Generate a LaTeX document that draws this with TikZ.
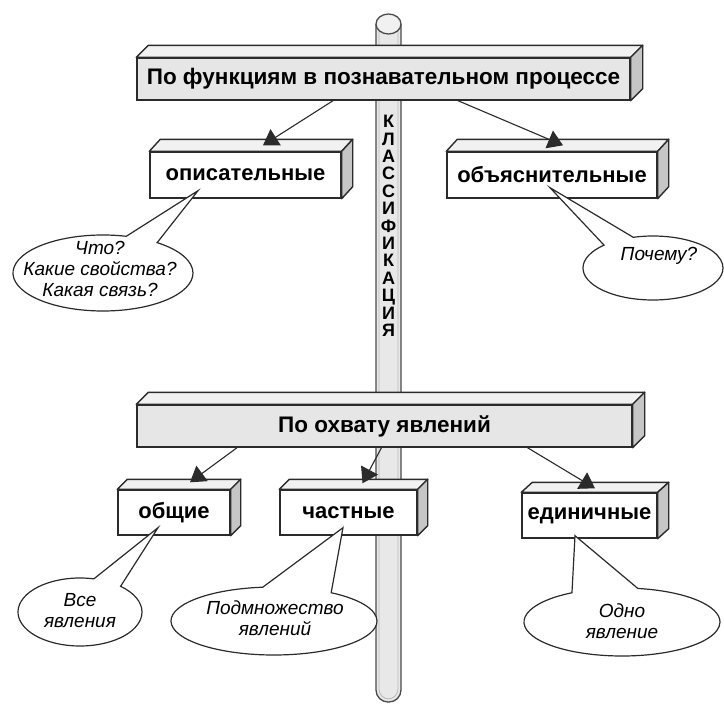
\documentclass[tikz,border=0pt]{standalone}
\usepackage{fontspec}
\setmainfont{Liberation Sans}
\usetikzlibrary{arrows.meta,shapes.callouts,shapes.geometric,calc}

\definecolor{edge}{HTML}{2B2B2B}
\definecolor{facegrey}{HTML}{E6E6E6}
\definecolor{topgrey}{HTML}{F1F1F1}
\definecolor{sidegrey}{HTML}{C6C6C6}
\definecolor{polefill}{HTML}{E8E8E8}
\definecolor{poleedge}{HTML}{4A4A4A}

\tikzset{
  block/.style={draw=edge, line width=1.4pt, inner sep=0pt,
    font=\fontsize{22}{24}\selectfont\bfseries, text=black},
  bigblock/.style={block, fill=facegrey, font=\fontsize{22.5}{24}\selectfont\bfseries},
  smallblock/.style={block, fill=white},
  topface/.style={fill=topgrey, draw=edge, line width=1.4pt, line join=round},
  sideface/.style={fill=sidegrey, draw=edge, line width=1.4pt, line join=round},
  link/.style={draw=edge, line width=1.1pt, -{Triangle[length=15pt,width=19pt]}},
  bubble/.style={ellipse callout, draw=edge, fill=white, line width=1.2pt, inner sep=0pt},
  bubbletext/.style={font=\fontsize{19}{21}\selectfont\itshape, align=center,
    text=black, inner sep=0pt},
}

% top and right faces of a block drawn as a 3D bar
\newcommand\drawdepth[3]{%
  \draw[topface] (#1.north west) -- ++(#2,-#3) -- ($(#1.north east)+(#2,-#3)$)
    -- (#1.north east) -- cycle;
  \draw[sideface] (#1.north east) -- ++(#2,-#3) -- ($(#1.south east)+(#2,-#3)$)
    -- (#1.south east) -- cycle;
}

\begin{document}
\begin{tikzpicture}[x=1pt,y=-1pt]
\useasboundingbox (0,0) rectangle (724,704);
\fill[white] (0,0) rectangle (724,704);

% the pole
\draw[poleedge, fill=polefill, line width=1.3pt, rounded corners=12pt]
  (376,24) -- (376,702) -- (401,702) -- (401,24);
\draw[gray!55, line width=0.8pt, rounded corners=10pt]
  (379,28) -- (379,699) -- (398,699) -- (398,28);
\draw[poleedge, fill=topgrey, line width=1.3pt] (388.5,24) ellipse [x radius=12.5pt, y radius=10pt];

% first criterion
\node[bigblock, minimum width=493pt, minimum height=42pt] (top) at (383.5,79)
  {По функциям в познавательном процессе};
\drawdepth{top}{12}{12}

\node[smallblock, minimum width=191pt, minimum height=46pt] (desc) at (245.5,175) {описательные};
\drawdepth{desc}{11}{12}
\node[smallblock, minimum width=210pt, minimum height=46pt] (expl) at (552,175) {объяснительные};
\drawdepth{expl}{11}{12}

% second criterion
\node[bigblock, minimum width=495pt, minimum height=42pt] (cover) at (384.5,426)
  {По охвату явлений};
\drawdepth{cover}{12}{12}

\node[smallblock, minimum width=112pt, minimum height=45pt] (gen) at (174,512.5) {общие};
\drawdepth{gen}{10}{10}
\node[smallblock, minimum width=137pt, minimum height=45pt] (part) at (348.5,512.5) {частные};
\drawdepth{part}{10}{10}
\node[smallblock, minimum width=135pt, minimum height=45pt] (single) at (589.5,515.5) {единичные};
\drawdepth{single}{11}{10}

% vertical caption on the pole
\node[font=\fontsize{18}{17.4}\selectfont\bfseries, align=center, inner sep=0pt] (cls)
  at (388.5,226) {К\\Л\\А\\С\\С\\И\\Ф\\И\\К\\А\\Ц\\И\\Я};

% arrows
\draw[link] ([xshift=-50.5pt]top.south) -- ([xshift=17.5pt,yshift=6pt]desc.north);
\draw[link] ([xshift=74.5pt]top.south) -- ([xshift=11pt,yshift=6pt]expl.north);
\draw[link] ([xshift=-147.5pt]cover.south) -- ([xshift=16pt,yshift=7pt]gen.north);
\draw[link] ([xshift=-3pt]cover.south) -- ([xshift=14pt,yshift=6pt]part.north);
\draw[link] ([xshift=143pt]cover.south) -- ([xshift=5.5pt,yshift=4pt]single.north);

% speech bubbles
\node[bubble, minimum width=180pt, minimum height=76pt, callout pointer arc=22,
  callout absolute pointer={([xshift=-47.5pt,yshift=8pt]desc.south)}] (c1) at (103,273) {};
\node[bubbletext] (t1) at (100,269) {Что?\\Какие свойства?\\Какая связь?};

\node[bubble, minimum width=140pt, minimum height=64pt, callout pointer arc=28,
  callout absolute pointer={([xshift=-2pt,yshift=11pt]expl.south)}] (c2) at (653,268) {};
\node[bubbletext] (t2) at (659,256) {Почему?};

\node[bubble, minimum width=124pt, minimum height=68pt, callout pointer arc=28,
  callout absolute pointer={([xshift=-16pt,yshift=8pt]gen.south)}] (c3) at (80,612) {};
\node[bubbletext] (t3) at (80,611) {Все\\явления};

\node[bubble, minimum width=206pt, minimum height=68pt, callout pointer arc=40,
  callout absolute pointer={([xshift=-5.5pt,yshift=8pt]part.south)}] (c4) at (274,621) {};
\node[bubbletext] (t4) at (275,618) {Подмножество\\явлений};

\node[bubble, minimum width=196pt, minimum height=68pt, callout pointer arc=40,
  callout absolute pointer={([xshift=-14.5pt,yshift=3pt]single.south)}] (c5) at (622,622) {};
\node[bubbletext] (t5) at (622,621) {Одно\\явление};
\end{tikzpicture}
\end{document}
